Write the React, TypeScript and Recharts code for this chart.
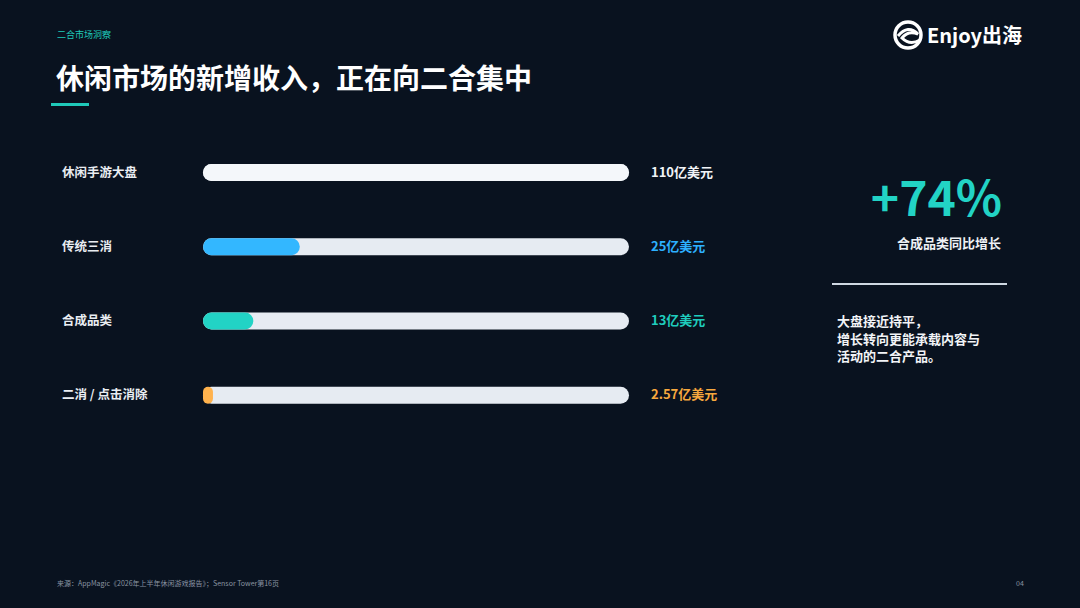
import React from 'react';
import { BarChart, Bar, XAxis, YAxis, Cell } from 'recharts';

const categories = ['休闲手游大盘', '传统三消', '合成品类', '二消 / 点击消除'];
const revenue = [110, 25, 13, 2.57];
const valueLabels = ['110亿美元', '25亿美元', '13亿美元', '2.57亿美元'];
const barColors = ['#f4f7fa', '#33b7ff', '#22d3c5', '#ffb24d'];
const labelColors = ['#f2f4f7', '#2db0ff', '#1fccbd', '#f7a83e'];
const noteLines = ['大盘接近持平，', '增长转向更能承载内容与', '活动的二合产品。'];

const data = categories.map((name, i) => ({ name, value: revenue[i], label: valueLabels[i] }));

const FONT = '"Noto Sans CJK SC", "Noto Sans", sans-serif';
const BG = '#09121f';

const LeftTick = (props: any) => {
    const { y, payload } = props;
    return (
        <text x={62} y={y} dy={4.5} fill="#e9edf2" fontSize={12.5} fontWeight={700} fontFamily={FONT} textAnchor="start">
            {payload.value}
        </text>
    );
};

const RightTick = (props: any) => {
    const { x, y, payload, index } = props;
    return (
        <text x={x} y={y} dy={4.5} fill={labelColors[index]} fontSize={13} fontWeight={700} fontFamily={FONT} textAnchor="start">
            {payload.value}
        </text>
    );
};

const Logo = () => (
    <svg width={150} height={40} style={{ position: 'absolute', left: 890, top: 16 }}>
        <circle cx={18} cy={19} r={13} fill="none" stroke="#ffffff" strokeWidth={3.5} />
        <path d="M8 20 Q18 8 28 18 Q18 14 12 22 Q20 30 30 24" fill="none" stroke="#ffffff" strokeWidth={3} />
        <text x={37} y={27} fill="#ffffff" fontSize={20} fontWeight={700} fontFamily={FONT}>Enjoy出海</text>
    </svg>
);

export default function App() {
    return (
        <div style={{ position: 'fixed', left: 0, top: 0, width: 1080, height: 608, background: BG, overflow: 'hidden', fontFamily: FONT }}>
            <div style={{ position: 'absolute', left: 57, top: 28, fontSize: 9, color: '#1fc9b9' }}>二合市场洞察</div>
            <div style={{ position: 'absolute', left: 56, top: 57, fontSize: 28, fontWeight: 700, color: '#ffffff', lineHeight: '40px' }}>
                休闲市场的新增收入，正在向二合集中
            </div>
            <div style={{ position: 'absolute', left: 51, top: 103, width: 38, height: 3, background: '#1fc9b9' }} />
            <Logo />

            <div style={{ position: 'absolute', left: 0, top: 0 }}>
                <BarChart
                    width={760}
                    height={608}
                    data={data}
                    layout="vertical"
                    margin={{ top: 135, right: 0, left: 0, bottom: 176 }}
                    barSize={17}
                >
                    <XAxis type="number" domain={[0, 110]} hide />
                    <YAxis yAxisId="left" type="category" dataKey="name" width={203} axisLine={false} tickLine={false} tick={<LeftTick />} />
                    <YAxis yAxisId="right" orientation="right" type="category" dataKey="label" width={131} axisLine={false} tickLine={false} tickSize={0} tickMargin={22} tick={<RightTick />} />
                    <Bar
                        yAxisId="left"
                        dataKey="value"
                        radius={9}
                        background={{ fill: '#e6ebf2', radius: 9 } as any}
                        isAnimationActive={false}
                    >
                        {data.map((d, i) => (
                            <Cell key={d.name} fill={barColors[i]} />
                        ))}
                    </Bar>
                </BarChart>
            </div>

            <div style={{ position: 'absolute', right: 78, top: 163, fontSize: 48, fontWeight: 700, color: '#22d3c5', lineHeight: '64px' }}>+74%</div>
            <div style={{ position: 'absolute', right: 79, top: 233, fontSize: 13, fontWeight: 700, color: '#eef1f5', lineHeight: '20px' }}>合成品类同比增长</div>
            <div style={{ position: 'absolute', left: 832, top: 283, width: 175, height: 2, background: '#cfd8e2' }} />
            {noteLines.map((line, i) => (
                <div key={line} style={{ position: 'absolute', left: 837, top: 313 + i * 17.5, fontSize: 13, fontWeight: 700, color: '#f2f4f7', lineHeight: '16px', whiteSpace: 'nowrap' }}>
                    {line}
                </div>
            ))}

            <div style={{ position: 'absolute', left: 57, top: 578, fontSize: 7, color: '#8a94a2' }}>
                来源：AppMagic《2026年上半年休闲游戏报告》；Sensor Tower第16页
            </div>
            <div style={{ position: 'absolute', left: 1016, top: 578, fontSize: 7, color: '#8a94a2' }}>04</div>
        </div>
    );
}
